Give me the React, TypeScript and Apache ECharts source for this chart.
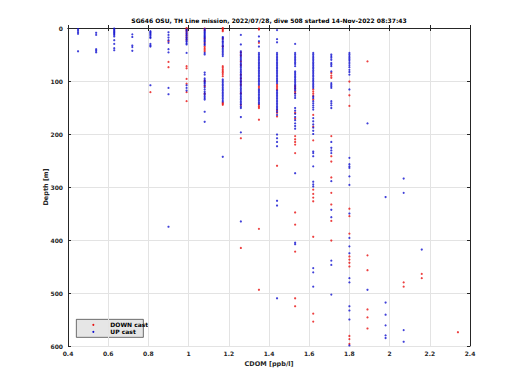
import React, { useEffect, useRef } from "react";
import * as echarts from "echarts";

const titleText =
  "SG646 OSU, TH Line mission, 2022/07/28, dive 508 started 14-Nov-2022 08:37:43";
const xLabel = "CDOM [ppb/l]";
const yLabel = "Depth [m]";
const legendNames = ["DOWN cast", "UP cast"];

// CDOM levels (columns)
const cdomLevels = [
  0.45, 0.54, 0.63, 0.72, 0.81, 0.9, 0.99, 1.08, 1.17, 1.26, 1.35, 1.44, 1.53,
  1.62, 1.71, 1.8, 1.89, 1.98, 2.07, 2.16, 2.34,
];

// Depths [m] of DOWN cast samples per CDOM level
const downDepths: number[][] = [
  [],
  [],
  [],
  [],
  [121],
  [25, 64, 74],
  [0, 2, 4, 6, 10, 14, 18, 22, 72, 76, 96, 105, 121, 138],
  [1, 4, 20, 28, 35, 38, 41, 44, 100, 110, 124],
  [0, 2, 4, 6, 20, 35, 72, 75, 78, 81, 84, 87, 91, 141, 143, 145],
  [46, 52, 63, 70, 88, 95, 101, 107, 123, 145, 208, 415],
  [1, 3, 28, 110, 113, 145, 148, 151, 173, 379, 494],
  [107, 110, 113, 116, 155, 160, 167, 260],
  [110, 114, 120, 123, 160, 171, 204, 210, 215, 220, 236, 348, 371, 422, 510, 525],
  [116, 120, 124, 128, 135, 164, 186, 212, 305, 313, 320, 327, 394, 539, 554],
  [85, 90, 94, 204, 242, 252, 282, 311, 333, 364, 401],
  [101, 127, 147, 341, 355, 388, 431, 437, 443, 450, 581, 587, 596],
  [63, 429, 457, 531, 546, 567],
  [],
  [480, 488],
  [464, 472],
  [574],
];

// Depths [m] of UP cast samples per CDOM level
const upDepths: number[][] = [
  [2, 5, 8, 11, 44],
  [9, 13, 40, 43, 46],
  [1, 3, 5, 7, 9, 11, 13, 16, 23, 30, 38, 42],
  [12, 17, 33, 36, 43],
  [6, 8, 10, 12, 14, 17, 19, 30, 33, 35, 108],
  [8, 13, 18, 23, 28, 40, 46, 113, 125, 375],
  [3, 5, 8, 11, 13, 16, 19, 21, 24, 26, 29, 31, 47, 108, 113, 118],
  [2, 5, 7, 9, 11, 13, 15, 17, 19, 22, 24, 26, 30, 32, 47, 50, 84, 88, 95, 98,
    101, 103, 105, 108, 112, 116, 120, 123, 126, 129, 132, 135, 158, 177],
  [17, 19, 22, 25, 27, 30, 33, 35, 38, 41, 44, 47, 50, 53, 97, 100, 103, 106,
    109, 112, 115, 118, 121, 124, 127, 130, 133, 136, 139, 243],
  [13, 31, 44, 47, 50, 53, 56, 59, 62, 66, 69, 72, 75, 78, 81, 84, 87, 90, 93,
    96, 99, 102, 105, 108, 111, 114, 117, 120, 123, 126, 129, 132, 135, 138,
    141, 144, 148, 151, 168, 197, 365],
  [16, 25, 35, 47, 50, 53, 56, 59, 62, 65, 68, 71, 74, 77, 80, 83, 86, 89, 92,
    95, 98, 101, 104, 107, 116, 119, 122, 125, 128, 131, 134, 137, 140, 143],
  [4, 21, 27, 47, 50, 53, 56, 59, 62, 65, 68, 71, 74, 77, 80, 83, 86, 89, 92,
    95, 98, 101, 104, 118, 121, 124, 127, 130, 133, 136, 139, 142, 145, 148,
    151, 154, 158, 164, 201, 208, 215, 223, 326, 335, 510],
  [30, 47, 50, 53, 56, 59, 62, 65, 68, 72, 82, 85, 88, 91, 94, 97, 100, 103,
    106, 109, 112, 115, 118, 124, 128, 132, 151, 156, 162, 168, 174, 180, 185,
    190, 274, 405, 408],
  [47, 50, 53, 56, 59, 62, 65, 68, 71, 74, 77, 80, 83, 86, 89, 92, 95, 98, 101,
    104, 107, 110, 113, 129, 132, 138, 142, 146, 150, 154, 170, 176, 182, 188,
    194, 200, 233, 236, 242, 261, 290, 295, 299, 453, 461, 488],
  [50, 53, 56, 60, 66, 69, 72, 82, 104, 107, 110, 113, 138, 142, 146, 151, 215,
    226, 231, 236, 289, 343, 357, 439, 447, 503],
  [47, 50, 53, 56, 59, 62, 66, 70, 74, 79, 83, 88, 116, 245, 257, 261, 264, 280,
    296, 350, 396, 412, 425, 472, 480, 525, 533, 550, 599],
  [180, 494],
  [319, 518, 541, 561, 580, 585],
  [284, 311, 570, 592],
  [418],
  [],
];

const xMin = 0.4;
const xMax = 2.4;
const xStep = 0.2;
const yMin = 0;
const yMax = 600;
const yStep = 100;

const FONT = "DejaVu Sans";
const TXT = "#262626";
const RED = "#e81010";
const BLUE = "#1010d0";

export default function App() {
  const ref = useRef<HTMLDivElement>(null);
  useEffect(() => {
    if (!ref.current) return;
    const chart = echarts.init(ref.current, undefined, { renderer: "svg" });
    const downData = cdomLevels.flatMap((x, i) => downDepths[i].map((d) => [x, d]));
    const upData = cdomLevels.flatMap((x, i) => upDepths[i].map((d) => [x, d]));
    const axisLine = { show: true, lineStyle: { color: TXT, width: 1 } };
    const tick = { show: true, inside: true, length: 3, lineStyle: { color: TXT } };
    const split = { show: true, lineStyle: { color: "#e3e3e3", width: 1 } };
    chart.setOption({
      animation: false,
      backgroundColor: "#ffffff",
      textStyle: { fontFamily: FONT },
      title: {
        text: titleText,
        left: 269,
        top: 17,
        padding: 0,
        textAlign: "center",
        textStyle: { fontSize: 6, fontWeight: "bold", color: "#000", fontFamily: FONT },
      },
      grid: { left: 68, right: 50, top: 28, bottom: 44 },
      xAxis: [
        {
          type: "value",
          min: xMin,
          max: xMax,
          interval: xStep,
          position: "bottom",
          name: xLabel,
          nameLocation: "middle",
          nameGap: 13,
          nameTextStyle: { fontSize: 6.5, fontWeight: "bold", color: TXT, fontFamily: FONT },
          axisLine,
          axisTick: tick,
          splitLine: split,
          axisLabel: {
            fontSize: 6,
            color: TXT,
            fontWeight: "bold",
            margin: 4,
            formatter: (v: number) => String(Math.round(v * 10) / 10),
          },
        },
        {
          type: "value",
          min: xMin,
          max: xMax,
          interval: xStep,
          position: "top",
          axisLine,
          axisTick: tick,
          splitLine: { show: false },
          axisLabel: { show: false },
        },
      ],
      yAxis: [
        {
          type: "value",
          inverse: true,
          min: yMin,
          max: yMax,
          interval: yStep,
          position: "left",
          name: yLabel,
          nameLocation: "middle",
          nameGap: 19,
          nameRotate: 90,
          nameMoveOverlap: false,
          nameTextStyle: { fontSize: 6.5, fontWeight: "bold", color: TXT, fontFamily: FONT },
          axisLine,
          axisTick: tick,
          splitLine: split,
          axisLabel: { fontSize: 6, color: TXT, fontWeight: "bold", margin: 5 },
        },
        {
          type: "value",
          inverse: true,
          min: yMin,
          max: yMax,
          interval: yStep,
          position: "right",
          axisLine,
          axisTick: tick,
          splitLine: { show: false },
          axisLabel: { show: false },
        },
      ],
      series: [
        {
          name: legendNames[0],
          type: "scatter",
          data: downData,
          symbol: "circle",
          symbolSize: 2.2,
          itemStyle: { color: RED },
          xAxisIndex: 0,
          yAxisIndex: 0,
        },
        {
          name: legendNames[1],
          type: "scatter",
          data: upData,
          symbol: "circle",
          symbolSize: 2.2,
          itemStyle: { color: BLUE },
          xAxisIndex: 0,
          yAxisIndex: 0,
        },
      ],
      graphic: [
        {
          type: "group",
          left: 76,
          top: 319,
          children: [
            {
              type: "rect",
              shape: { x: 0, y: 0, width: 67, height: 18 },
              style: { fill: "#e6e6e6", stroke: "#333", lineWidth: 0.7 },
            },
            { type: "circle", shape: { cx: 17, cy: 5.5, r: 1.1 }, style: { fill: RED } },
            { type: "circle", shape: { cx: 17, cy: 12.5, r: 1.1 }, style: { fill: BLUE } },
            {
              type: "text",
              x: 34,
              y: 5.5,
              style: {
                text: legendNames[0],
                fontSize: 6,
                fontWeight: "bold",
                fill: "#000",
                fontFamily: FONT,
                verticalAlign: "middle",
              },
            },
            {
              type: "text",
              x: 34,
              y: 12.5,
              style: {
                text: legendNames[1],
                fontSize: 6,
                fontWeight: "bold",
                fill: "#000",
                fontFamily: FONT,
                verticalAlign: "middle",
              },
            },
          ],
        },
      ],
    });
    return () => chart.dispose();
  }, []);
  return (
    <div
      ref={ref}
      style={{ position: "absolute", left: 0, top: 0, width: 520, height: 390 }}
    />
  );
}
